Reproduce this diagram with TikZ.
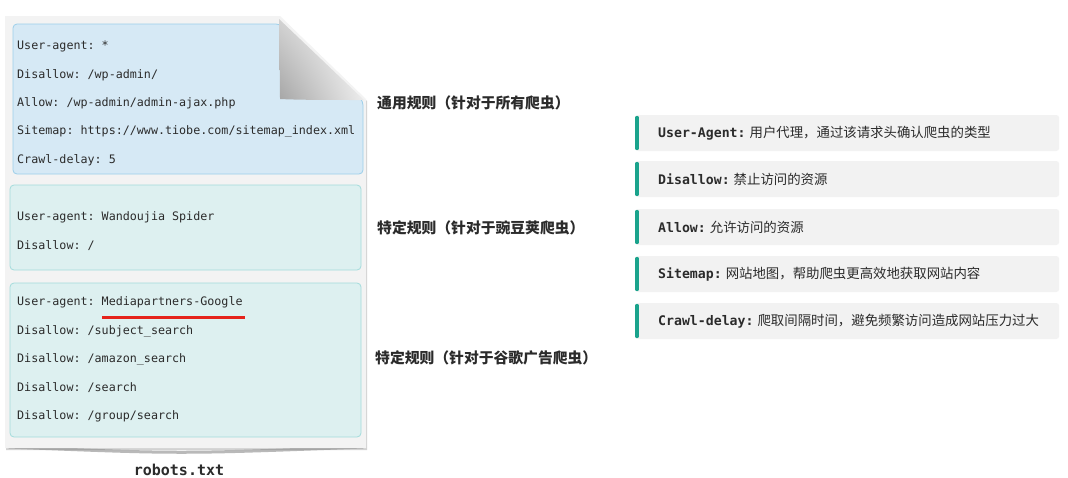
\documentclass[tikz,border=0pt]{standalone}
\usepackage{fontspec}
\setmonofont{DejaVu Sans Mono}
\newfontfamily\cjk{Noto Sans CJK SC}
\usetikzlibrary{positioning,shadows,shadings,calc}

\definecolor{bluefill}{HTML}{D6E9F5}
\definecolor{blueline}{HTML}{9CCFEA}
\definecolor{tealfill}{HTML}{DDF0F0}
\definecolor{tealline}{HTML}{A3DCDC}
\definecolor{papergray}{HTML}{F3F3F3}
\definecolor{cardgray}{HTML}{F2F2F2}
\definecolor{barteal}{HTML}{1AA38C}
\definecolor{markred}{HTML}{E5231B}
\definecolor{ink}{HTML}{2B2B2B}

\newcommand{\fieldkey}[1]{{\fontsize{13.2}{15}\selectfont\ttfamily\bfseries #1}}

\begin{document}
\begin{tikzpicture}[x=1pt, y=-1pt,
    codebox/.style={draw=tealline, fill=tealfill, rounded corners=4pt, line width=0.8pt},
    codeline/.style={anchor=west, inner sep=0pt, font=\fontsize{11.7}{13}\selectfont\ttfamily, text=ink},
    rule/.style={anchor=west, inner sep=0pt, font=\fontsize{14.8}{16}\selectfont\cjk\bfseries, text=ink},
    card/.style={anchor=west, fill=cardgray, rounded corners=3pt, minimum width=424pt, minimum height=36pt, inner sep=0pt},
    cardtext/.style={anchor=west, inner sep=0pt, font=\fontsize{13.4}{15}\selectfont\cjk, text=ink},
    bar/.style={draw=barteal, line width=4pt, line cap=round}
]
    \useasboundingbox (0,0) rectangle (1068,477);
    \fill[white] (0,0) rectangle (1068,477);

    % the sheet with its folded corner
    \draw[gray!55, line width=3pt, line cap=round] (9,447) .. controls (180,454) .. (363,447);
    \fill[papergray, drop shadow={opacity=0.35, shadow xshift=1pt, shadow yshift=-2pt}]
        (5,16) -- (280,16) -- (366,99) -- (366,448) -- (5,448) -- cycle;

    % general rules
    \draw[draw=blueline, fill=bluefill, line width=0.8pt, rounded corners=4pt]
        (13,24) -- (280,24) -- (363,101) -- (363,174) -- (13,174) -- cycle;
    \node[codeline] (g1) at (17,46) {User-agent: *};
    \node[codeline] (g2) at (17,75) {Disallow: /wp-admin/};
    \node[codeline] (g3) at (17,103) {Allow: /wp-admin/admin-ajax.php};
    \node[codeline] (g4) at (17,131) {Sitemap: https://www.tiobe.com/sitemap\_index.xml};
    \node[codeline] (g5) at (17,160) {Crawl-delay: 5};

    % folded flap
    \shade[lower left=gray!70, upper left=gray!35, upper right=white, lower right=gray!15]
        (279,19) -- (364,100) .. controls (330,100) and (300,100) .. (280,99)
        .. controls (280,70) and (279,40) .. (279,19) -- cycle;

    % wandoujia
    \draw[codebox] (10,185) rectangle (361,270);
    \node[codeline] (w1) at (17,217) {User-agent: Wandoujia Spider};
    \node[codeline] (w2) at (17,246) {Disallow: /};

    % google
    \draw[codebox] (10,283) rectangle (361,437);
    \node[codeline] (m1) at (17,302) {User-agent: Mediapartners-Google};
    \node[codeline] (m2) at (17,331) {Disallow: /subject\_search};
    \node[codeline] (m3) at (17,359) {Disallow: /amazon\_search};
    \node[codeline] (m4) at (17,388) {Disallow: /search};
    \node[codeline] (m5) at (17,416) {Disallow: /group/search};
    \draw[markred, line width=3pt] (102,317) -- (245,317);

    \node[anchor=base, inner sep=0pt, font=\fontsize{15}{17}\selectfont\ttfamily\bfseries, text=ink] (file) at (179,475) {robots.txt};

    % rule captions
    \node[rule] (r1) at (377,103) {通用规则（针对于所有爬虫）};
    \node[rule] (r2) at (377,228) {特定规则（针对于豌豆荚爬虫）};
    \node[rule] (r3) at (375,358) {特定规则（针对于谷歌广告爬虫）};

    % field cards
    \node[card] (ua) at (635,133) {};
    \node[card] (dis) at (635,179) {};
    \node[card] (all) at (635,227) {};
    \node[card] (site) at (635,274) {};
    \node[card] (crawl) at (635,321) {};
    \foreach \c in {ua,dis,all,site,crawl}
        \draw[bar] ([xshift=2pt,yshift=-3pt]\c.north west) -- ([xshift=2pt,yshift=3pt]\c.south west);

    \node[cardtext, right=23pt of ua.west] (uat) {\fieldkey{User-Agent:} 用户代理，通过该请求头确认爬虫的类型};
    \node[cardtext, right=23pt of dis.west] (dist) {\fieldkey{Disallow:} 禁止访问的资源};
    \node[cardtext, right=23pt of all.west] (allt) {\fieldkey{Allow:} 允许访问的资源};
    \node[cardtext, right=23pt of site.west] (sitet) {\fieldkey{Sitemap:} 网站地图，帮助爬虫更高效地获取网站内容};
    \node[cardtext, right=23pt of crawl.west] (crawlt) {\fieldkey{Crawl-delay:} 爬取间隔时间，避免频繁访问造成网站压力过大};
\end{tikzpicture}
\end{document}
